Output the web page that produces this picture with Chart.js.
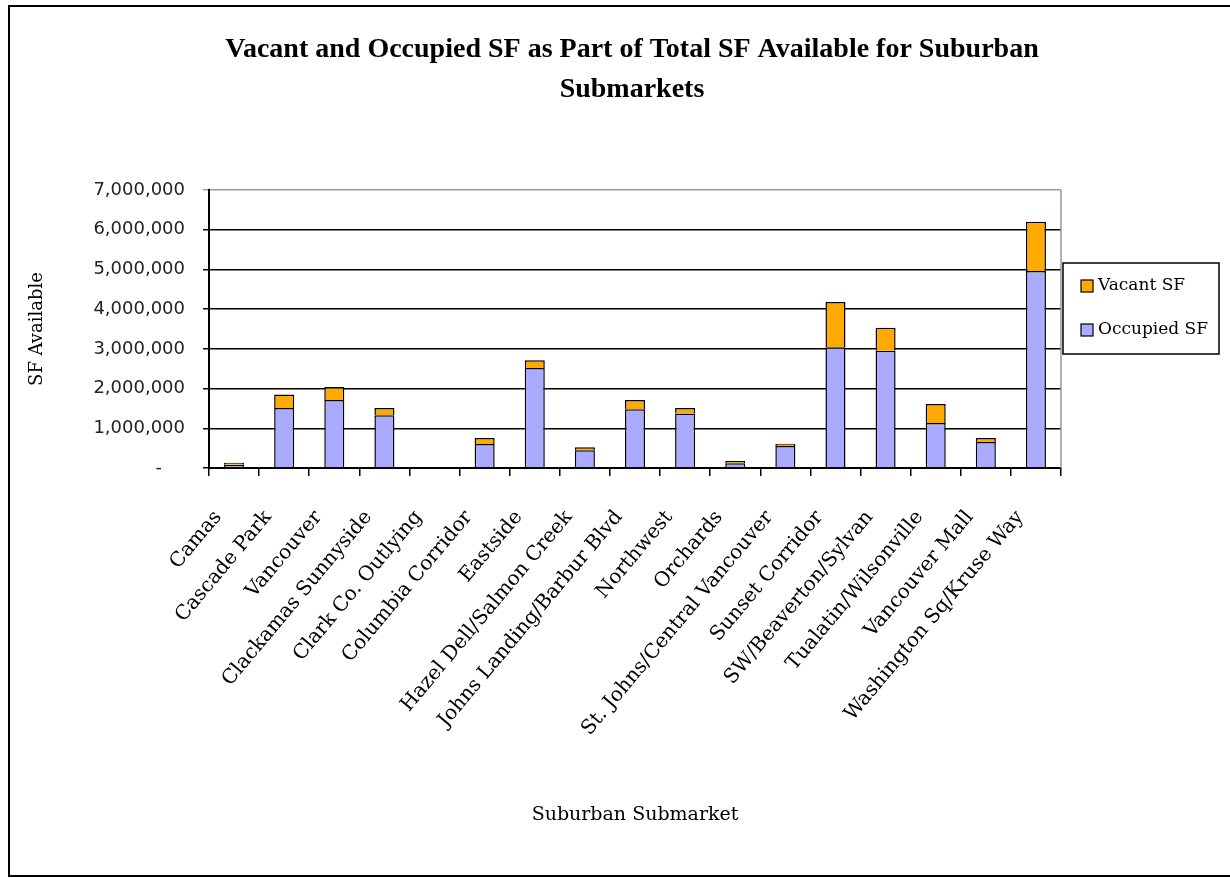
<!DOCTYPE html>
<html>
<head>
<meta charset="utf-8">
<script src="https://cdn.jsdelivr.net/npm/chart.js"></script>
<style>
  body { margin: 0; background: #fff; }
  canvas { display: block; }
</style>
</head>
<body>
<canvas id="myChart" width="1230" height="878"></canvas>
<script>
// suburban submarkets - vacant vs occupied SF
var submarkets = ["Camas", "Cascade Park", "Vancouver", "Clackamas Sunnyside", "Clark Co. Outlying",
  "Columbia Corridor", "Eastside", "Hazel Dell/Salmon Creek", "Johns Landing/Barbur Blvd", "Northwest",
  "Orchards", "St. Johns/Central Vancouver", "Sunset Corridor", "SW/Beaverton/Sylvan",
  "Tualatin/Wilsonville", "Vancouver Mall", "Washington Sq/Kruse Way"];
var occupiedSF = [80000, 1510000, 1710000, 1330000, 0, 605000, 2520000, 450000, 1480000, 1370000,
  120000, 555000, 3040000, 2950000, 1130000, 655000, 4960000];
var vacantSF = [50000, 340000, 330000, 180000, 0, 150000, 190000, 70000, 230000, 140000,
  55000, 55000, 1140000, 580000, 480000, 100000, 1240000];
var yTicks = [0, 1000000, 2000000, 3000000, 4000000, 5000000, 6000000, 7000000];
var titleLines = ["Vacant and Occupied SF as Part of Total SF Available for Suburban", "Submarkets"];

var orange = "#FFAA00";
var lilac = "#AAAAFF";

// frame, title and boxed legend (excel style)
var excelBits = {
  id: "excelBits",
  afterDraw: function (chart) {
    var ctx = chart.ctx;
    var a = chart.chartArea;
    ctx.save();

    // outer border
    ctx.strokeStyle = "#000";
    ctx.lineWidth = 2;
    ctx.strokeRect(9, 6, 1240, 870);

    // grey plot frame on the right
    ctx.strokeStyle = "#999";
    ctx.lineWidth = 1.5;
    ctx.beginPath();
    ctx.moveTo(a.right, a.top);
    ctx.lineTo(a.right, a.bottom);
    ctx.stroke();

    // title
    ctx.fillStyle = "#000";
    ctx.font = "bold 28px 'Liberation Serif', serif";
    ctx.textAlign = "center";
    ctx.textBaseline = "middle";
    titleLines.forEach(function (t, i) {
      ctx.fillText(t, 632, 50 + i * 40);
    });

    // legend
    var lx = a.right + 2, ly = 263, lw = 156, lh = 91;
    ctx.strokeStyle = "#000";
    ctx.lineWidth = 1.5;
    ctx.strokeRect(lx, ly, lw, lh);
    ctx.font = "17px 'DejaVu Serif', serif";
    ctx.textAlign = "left";
    var items = chart.data.datasets.slice().reverse();
    items.forEach(function (ds, i) {
      var cy = 286 + i * 44;
      ctx.fillStyle = ds.backgroundColor;
      ctx.fillRect(lx + 18, cy - 6, 12, 12);
      ctx.lineWidth = 1.2;
      ctx.strokeRect(lx + 18, cy - 6, 12, 12);
      ctx.fillStyle = "#000";
      ctx.fillText(ds.label, lx + 35, cy);
    });
    ctx.restore();
  }
};

new Chart("myChart", {
  type: "bar",
  data: {
    labels: submarkets,
    datasets: [{
      label: "Occupied SF",
      data: occupiedSF,
      backgroundColor: lilac,
      borderColor: "#000",
      borderWidth: 1.5,
      barPercentage: 0.4,
      categoryPercentage: 1
    }, {
      label: "Vacant SF",
      data: vacantSF,
      backgroundColor: orange,
      borderColor: "#000",
      borderWidth: 1.5,
      barPercentage: 0.4,
      categoryPercentage: 1
    }]
  },
  options: {
    responsive: false,
    animation: false,
    layout: { padding: { top: 190, left: 10, right: 169, bottom: 0 } },
    plugins: {
      legend: { display: false },
      title: { display: false },
      tooltip: { enabled: false }
    },
    scales: {
      x: {
        stacked: true,
        afterFit: function (s) { s.height = 410; },
        grid: {
          offset: true,
          drawOnChartArea: false,
          color: "#000",
          lineWidth: 1.5,
          tickLength: 8
        },
        border: { color: "#000", width: 2 },
        ticks: {
          autoSkip: false,
          maxRotation: 50,
          minRotation: 50,
          labelOffset: -16,
          padding: 30,
          color: "#000",
          font: { family: "'DejaVu Serif', serif", size: 20 }
        },
        title: {
          display: true,
          text: "Suburban Submarket",
          color: "#000",
          font: { family: "'DejaVu Serif', serif", size: 19 },
          padding: { top: 0, bottom: 52 }
        }
      },
      y: {
        stacked: true,
        min: 0,
        max: 7000000,
        afterFit: function (s) { s.width = 199; },
        afterBuildTicks: function (s) {
          s.ticks = yTicks.map(function (v) { return { value: v }; });
        },
        grid: {
          color: function (c) { return c.tick && c.tick.value === 7000000 ? "#999" : "#000"; },
          lineWidth: 1.5,
          tickLength: 6
        },
        border: { color: "#000", width: 2 },
        ticks: {
          padding: 18,
          color: "#222",
          font: { family: "'DejaVu Sans', sans-serif", size: 18 },
          callback: function (v) { return v === 0 ? "-    " : v.toLocaleString("en-US"); }
        },
        title: {
          display: true,
          text: "SF Available",
          color: "#000",
          font: { family: "'DejaVu Serif', serif", size: 18 },
          padding: { top: 17, bottom: 0 }
        }
      }
    }
  },
  plugins: [excelBits]
});
</script>
</body>
</html>
